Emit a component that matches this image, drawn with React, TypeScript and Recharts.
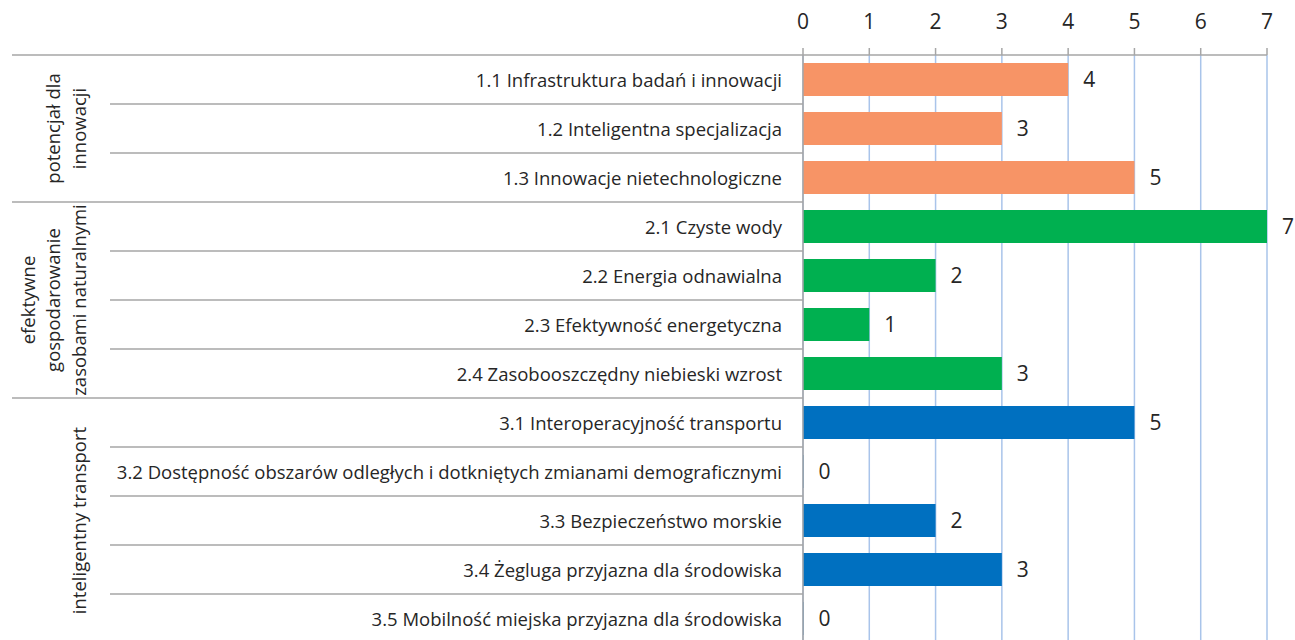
import React from 'react';
import { BarChart, Bar, XAxis, YAxis, CartesianGrid, Cell, LabelList } from 'recharts';

const categories = [
  '1.1 Infrastruktura badań i innowacji',
  '1.2 Inteligentna specjalizacja',
  '1.3 Innowacje nietechnologiczne',
  '2.1 Czyste wody',
  '2.2 Energia odnawialna',
  '2.3 Efektywność energetyczna',
  '2.4 Zasobooszczędny niebieski wzrost',
  '3.1 Interoperacyjność transportu',
  '3.2 Dostępność obszarów odległych i dotkniętych zmianami demograficznymi',
  '3.3 Bezpieczeństwo morskie',
  '3.4 Żegluga przyjazna dla środowiska',
  '3.5 Mobilność miejska przyjazna dla środowiska',
];
const values = [4, 3, 5, 7, 2, 1, 3, 5, 0, 2, 3, 0];
const groupOf = [0, 0, 0, 1, 1, 1, 1, 2, 2, 2, 2, 2];
const groupNames = [
  ['potencjał dla', 'innowacji'],
  ['efektywne', 'gospodarowanie', 'zasobami naturalnymi'],
  ['inteligentny transport'],
];
const groupColors = ['#F79466', '#00B050', '#0070C0'];
const xTicks = [0, 1, 2, 3, 4, 5, 6, 7];

const data = categories.map((name, i) => ({ name, value: values[i], group: groupOf[i] }));

const W = 1295;
const H = 643;
const PLOT_TOP = 55;
const AXIS_X = 803;
const LEFT = 12;
const INNER_LEFT = 110;
const ROW_H = (H - PLOT_TOP) / categories.length;
const FONT = '"Open Sans", sans-serif';
const LINE = '#a6a6a6';
const TEXT = '#262626';
const LABEL_SIZE = 18.5;
const NUM_SIZE = 21;

const CategoryTick = (props: any) => {
  const { y, payload } = props;
  const i = categories.indexOf(payload.value);
  const g = groupOf[i];
  const groupEnd = i === categories.length - 1 || groupOf[i + 1] !== g;
  const bottom = y + ROW_H / 2;
  const top = y - ROW_H / 2;
  const groupStart = i === 0 || groupOf[i - 1] !== g;
  let label = null;
  if (groupStart) {
    const count = groupOf.filter(v => v === g).length;
    const cy = top + (count * ROW_H) / 2;
    const lines = groupNames[g];
    label = lines.map((ln, k) => {
      const lx = 78 - (lines.length - 1 - k) * 25.5;
      return (
        <text
          key={k}
          x={lx}
          y={cy}
          transform={`rotate(-90, ${lx}, ${cy})`}
          textAnchor="middle"
          dominantBaseline="central"
          fontSize={LABEL_SIZE}
          fontFamily={FONT}
          fill={TEXT}
        >
          {ln}
        </text>
      );
    });
  }
  return (
    <g>
      {i === 0 && <line x1={LEFT} x2={AXIS_X} y1={top} y2={top} stroke={LINE} strokeWidth={1.5} />}
      <line x1={groupEnd ? LEFT : INNER_LEFT} x2={AXIS_X} y1={bottom} y2={bottom} stroke={LINE} strokeWidth={1.5} />
      <text
        x={AXIS_X - 21}
        y={y}
        textAnchor="end"
        dominantBaseline="central"
        fontSize={LABEL_SIZE}
        fontFamily={FONT}
        fill={TEXT}
      >
        {payload.value}
      </text>
      {label}
    </g>
  );
};

export default function App() {
  return (
    <div style={{ position: 'absolute', left: 0, top: 0, width: W, height: 640, overflow: 'hidden', background: '#fff' }}>
      <BarChart
        width={W}
        height={H}
        data={data}
        layout="vertical"
        margin={{ top: 0, right: W - 1267, bottom: 0, left: LEFT }}
        barSize={33}
      >
        <CartesianGrid horizontal={false} stroke="#a9c4ea" strokeWidth={1.5} />
        <XAxis
          type="number"
          orientation="top"
          domain={[0, 7]}
          ticks={xTicks}
          height={PLOT_TOP}
          axisLine={{ stroke: LINE, strokeWidth: 1.5 }}
          tickLine={{ stroke: LINE, strokeWidth: 1.5 }}
          tickSize={7}
          tickMargin={19}
          tick={{ fontSize: NUM_SIZE, fontFamily: FONT, fill: TEXT }}
        />
        <YAxis
          type="category"
          dataKey="name"
          width={AXIS_X - LEFT}
          axisLine={{ stroke: LINE, strokeWidth: 1.5 }}
          tickLine={false}
          tick={<CategoryTick />}
          interval={0}
        />
        <Bar dataKey="value" isAnimationActive={false} minPointSize={0.5}>
          {data.map((d, i) => (
            <Cell key={i} fill={groupColors[d.group]} />
          ))}
          <LabelList
            dataKey="value"
            position="right"
            offset={15}
            fontSize={NUM_SIZE}
            fontFamily={FONT}
            fill={TEXT}
          />
        </Bar>
      </BarChart>
    </div>
  );
}
